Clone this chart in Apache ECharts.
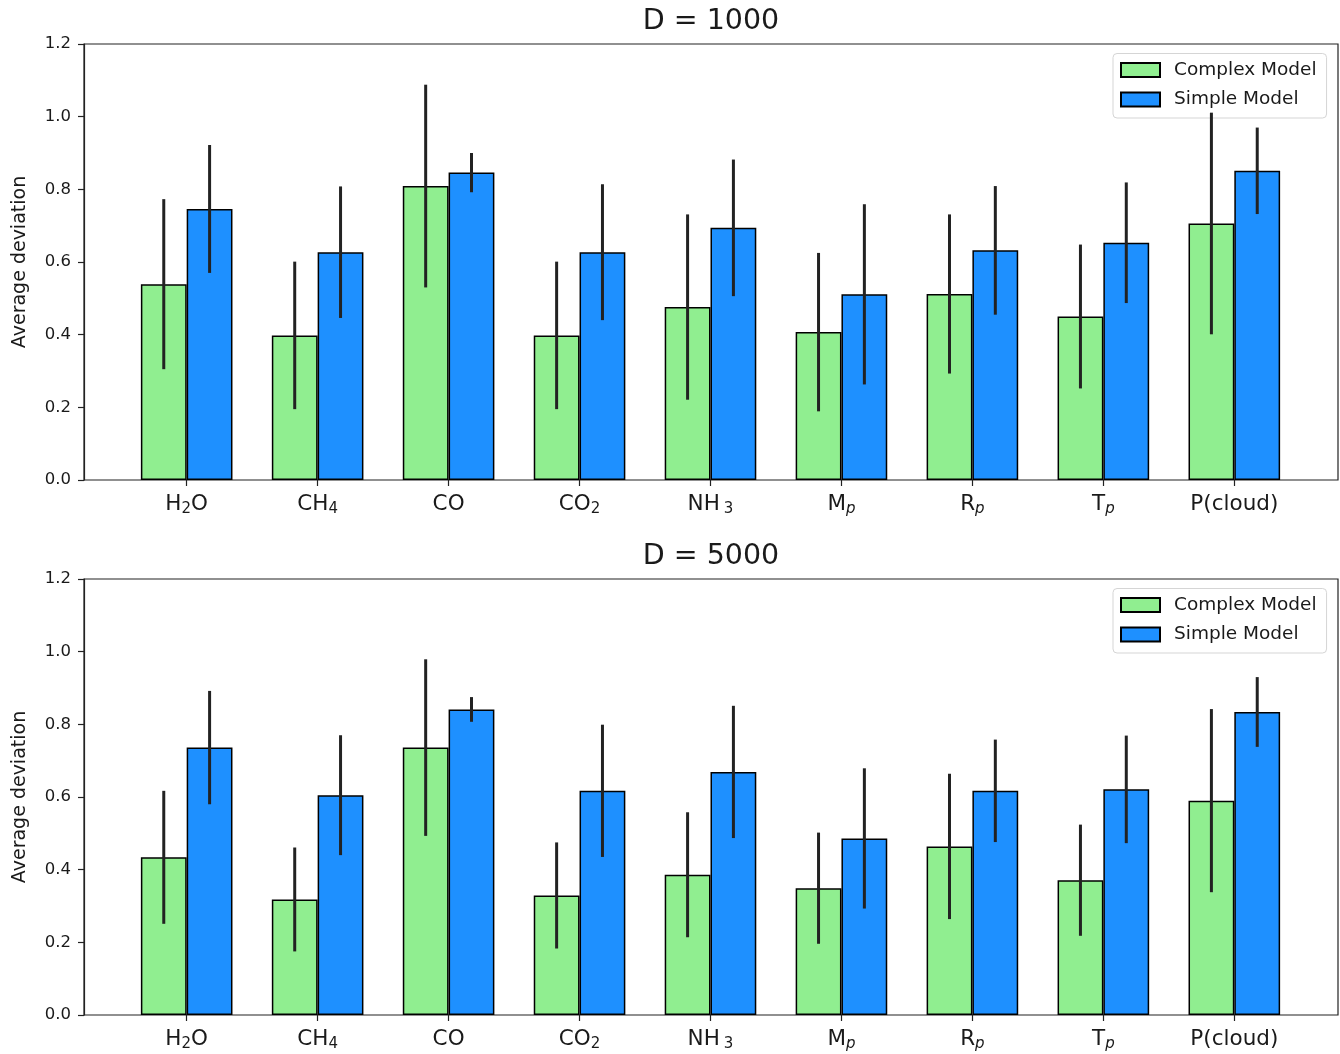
<!DOCTYPE html>
<html>
<head>
<meta charset="utf-8">
<title>Average deviation</title>
<script src="https://cdn.jsdelivr.net/npm/echarts@6/dist/echarts.min.js"></script>
<style>
  html, body { margin: 0; padding: 0; background: #fff; }
  #main { width: 1340px; height: 1054px; }
</style>
</head>
<body>
<div id="main"></div>
<script>
// category labels (rich text markup for the subscripts)
var categories = ['H{s|2}O', 'CH{s|4}', 'CO', 'CO{s|2}', 'NH{s3|3}', 'M{p|p}', 'R{p|p}', 'T{p|p}', 'P(cloud)'];
var seriesNames = ['Complex Model', 'Simple Model'];
var yTicks = [0, 0.2, 0.4, 0.6, 0.8, 1.0, 1.2];

// D = 1000
var complex1 = [0.539, 0.398, 0.809, 0.398, 0.476, 0.407, 0.512, 0.450, 0.706];
var complexErr1 = [0.234, 0.203, 0.279, 0.203, 0.255, 0.218, 0.219, 0.198, 0.305];
var simple1 = [0.746, 0.627, 0.846, 0.627, 0.694, 0.511, 0.632, 0.653, 0.851];
var simpleErr1 = [0.176, 0.181, 0.054, 0.187, 0.188, 0.248, 0.177, 0.166, 0.119];

// D = 5000
var complex2 = [0.434, 0.318, 0.736, 0.329, 0.386, 0.349, 0.464, 0.371, 0.590];
var complexErr2 = [0.183, 0.143, 0.243, 0.146, 0.172, 0.153, 0.200, 0.153, 0.252];
var simple2 = [0.736, 0.605, 0.841, 0.617, 0.669, 0.486, 0.617, 0.621, 0.834];
var simpleErr2 = [0.156, 0.165, 0.034, 0.182, 0.182, 0.193, 0.141, 0.148, 0.096];

var FONT = 'DejaVu Sans';
var INK = '#1a1a1a';
var GREEN = '#90EE90';
var BLUE = '#1E90FF';

var myChart = echarts.init(document.getElementById('main'));

function errorBar(side) {
    return function (params, api) {
        var i = api.value(0);
        var v = api.value(1);
        var e = api.value(2);
        var w = api.size([1, 0])[0] * 0.35;
        var x = api.coord([i, v])[0] + side * w / 2;
        return {
            type: 'line',
            shape: { x1: x, y1: api.coord([i, v + e])[1], x2: x, y2: api.coord([i, v - e])[1] },
            style: { stroke: '#222', lineWidth: 3 }
        };
    };
}

var option = {
    animation: false,
    backgroundColor: '#fff',
    title: [],
    legend: [],
    grid: [],
    xAxis: [],
    yAxis: [],
    series: []
};

function addPanel(titleText, top, complex, complexErr, simple, simpleErr) {
    var k = option.grid.length; // frame grid index, data grid = k + 1
    option.title.push({
        text: titleText,
        left: 711,
        top: top - 38,
        textAlign: 'center',
        padding: 0,
        textStyle: { fontFamily: FONT, fontSize: 28.5, fontWeight: 'normal', color: INK, lineHeight: 32 }
    });
    // frame with the y axis
    option.grid.push({
        left: 84, top: top, width: 1254, height: 436,
        show: true, borderColor: '#222', borderWidth: 1.2, backgroundColor: 'transparent'
    });
    // inner grid holding the categories (matplotlib margins)
    option.grid.push({ left: 121.2, top: top, width: 1178.6, height: 436 });

    option.xAxis.push({ gridIndex: k, type: 'value', min: 0, max: 1, show: false });
    option.xAxis.push({
        gridIndex: k + 1,
        type: 'category',
        data: categories,
        axisLine: { show: false },
        axisTick: { show: true, alignWithLabel: true, length: 6, lineStyle: { color: '#222', width: 1.2 } },
        axisLabel: {
            margin: 11,
            interval: 0,
            color: INK,
            fontFamily: FONT,
            fontSize: 21.5,
            lineHeight: 26,
            rich: {
                s: { fontFamily: FONT, fontSize: 15, color: INK, padding: [10, 0, 0, 0] },
                s3: { fontFamily: FONT, fontSize: 15, color: INK, padding: [10, 0, 0, 4] },
                p: { fontFamily: FONT, fontSize: 15, fontStyle: 'italic', color: INK, padding: [10, 0, 0, 0] }
            }
        }
    });

    option.yAxis.push({
        gridIndex: k,
        type: 'value',
        min: yTicks[0],
        max: yTicks[yTicks.length - 1],
        interval: 0.2,
        name: 'Average deviation',
        nameLocation: 'middle',
        nameGap: 54,
        nameTextStyle: { fontFamily: FONT, fontSize: 19, color: INK },
        splitLine: { show: false },
        axisLine: { show: true, lineStyle: { color: '#222', width: 1.2 } },
        axisTick: { show: true, length: 6, lineStyle: { color: '#222', width: 1.2 } },
        axisLabel: {
            margin: 13,
            color: INK,
            fontFamily: FONT,
            fontSize: 16.5,
            formatter: function (v) { return v.toFixed(1); }
        }
    });
    option.yAxis.push({ gridIndex: k + 1, type: 'value', min: 0, max: 1.2, show: false });

    option.legend.push({
        data: seriesNames,
        orient: 'vertical',
        left: 1113,
        top: top + 9.5,
        icon: 'rect',
        itemWidth: 39,
        itemHeight: 14,
        itemGap: 10.5,
        padding: [7, 10, 9, 7],
        selectedMode: false,
        backgroundColor: '#fff',
        borderColor: '#d5d5d5',
        borderWidth: 1,
        borderRadius: 4,
        textStyle: { fontFamily: FONT, fontSize: 18.5, color: INK, lineHeight: 18, padding: [0, 0, 0, 9] }
    });

    var barStyle = function (c) {
        return { color: c, borderColor: '#000', borderWidth: 1.5 };
    };
    option.series.push({
        name: seriesNames[0], type: 'bar', xAxisIndex: k + 1, yAxisIndex: k + 1,
        data: complex, barWidth: 45.8, barGap: '0%', itemStyle: barStyle(GREEN), z: 2
    });
    option.series.push({
        name: seriesNames[1], type: 'bar', xAxisIndex: k + 1, yAxisIndex: k + 1,
        data: simple, barWidth: 45.8, barGap: '0%', itemStyle: barStyle(BLUE), z: 2
    });
    option.series.push({
        name: 'err-c', type: 'custom', xAxisIndex: k + 1, yAxisIndex: k + 1, z: 5,
        renderItem: errorBar(-1),
        data: complex.map(function (v, i) { return [i, v, complexErr[i]]; })
    });
    option.series.push({
        name: 'err-s', type: 'custom', xAxisIndex: k + 1, yAxisIndex: k + 1, z: 5,
        renderItem: errorBar(1),
        data: simple.map(function (v, i) { return [i, v, simpleErr[i]]; })
    });
}

addPanel('D = 1000', 44, complex1, complexErr1, simple1, simpleErr1);
addPanel('D = 5000', 579, complex2, complexErr2, simple2, simpleErr2);

myChart.setOption(option);
</script>
</body>
</html>
